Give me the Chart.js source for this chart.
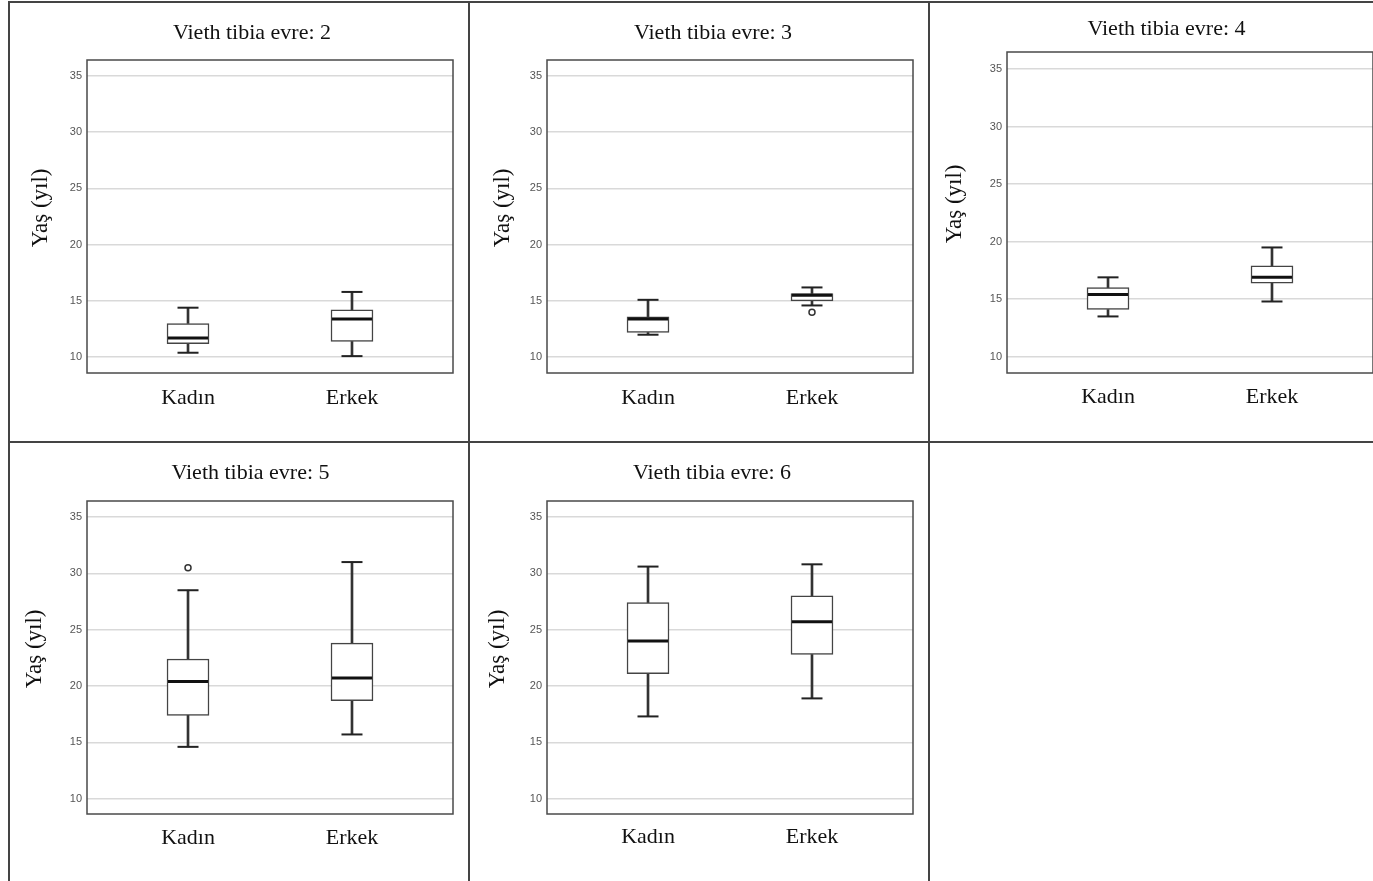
<!DOCTYPE html>
<html>
<head>
<meta charset="utf-8">
<script src="https://cdn.jsdelivr.net/npm/chart.js@4.4.1/dist/chart.umd.min.js"></script>
<style>
  html, body { margin: 0; padding: 0; background: #fff; overflow: hidden; }
  body { width: 1373px; height: 881px; position: relative; }
  .panel { position: absolute; }
  .rule { position: absolute; background: #444; }
</style>
</head>
<body>
<div id="panels"></div>
<div class="rule" style="left:8px;top:1px;width:1365px;height:2px"></div>
<div class="rule" style="left:8px;top:1px;width:2px;height:880px"></div>
<div class="rule" style="left:468px;top:1px;width:2px;height:880px"></div>
<div class="rule" style="left:928px;top:1px;width:2px;height:880px"></div>
<div class="rule" style="left:8px;top:441px;width:1365px;height:2px"></div>
<script>
const groups = ['Kadın', 'Erkek'];
const stages = [2, 3, 4, 5, 6];

// one [Kadın, Erkek] pair per stage, values in years
const lowWhisker  = [[10.4, 10.1], [12.0, 14.6], [13.5, 14.8], [14.6, 15.7], [17.3, 18.9]];
const q1          = [[11.2, 11.4], [12.2, 15.0], [14.1, 16.4], [17.4, 18.7], [21.1, 22.8]];
const medians     = [[11.7, 13.4], [13.4, 15.5], [15.4, 16.9], [20.4, 20.7], [24.0, 25.7]];
const q3          = [[13.0, 14.2], [13.6, 15.65], [16.0, 17.9], [22.4, 23.8], [27.4, 28.0]];
const highWhisker = [[14.4, 15.8], [15.1, 16.2], [16.9, 19.5], [28.5, 31.0], [30.6, 30.8]];
const outliers    = [[[], []], [[], [14.0]], [[], []], [[30.5], []], [[], []]];
const yTicks = [10, 15, 20, 25, 30, 35];

// where each panel sits on the page (px)
const panels = [
  {left: 9,   top: 3,   chartLeft: 87,   chartRight: 453,  chartTop: 60,  chartBottom: 373, titleX: 252,    titleY: 33,  labelY: 398, yTitleX: 41,  yMin: 8.6,  yMax: 36.4},
  {left: 470, top: 3,   chartLeft: 547,  chartRight: 913,  chartTop: 60,  chartBottom: 373, titleX: 713,    titleY: 33,  labelY: 398, yTitleX: 503, yMin: 8.6,  yMax: 36.4},
  {left: 930, top: 3,   chartLeft: 1007, chartRight: 1373, chartTop: 52,  chartBottom: 373, titleX: 1166.5, titleY: 29,  labelY: 397, yTitleX: 955, yMin: 8.58, yMax: 36.5},
  {left: 9,   top: 443, chartLeft: 87,   chartRight: 453,  chartTop: 501, chartBottom: 814, titleX: 250.5,  titleY: 473, labelY: 838, yTitleX: 35,  yMin: 8.64, yMax: 36.42},
  {left: 470, top: 443, chartLeft: 547,  chartRight: 913,  chartTop: 501, chartBottom: 814, titleX: 712,    titleY: 473, labelY: 837, yTitleX: 498, yMin: 8.64, yMax: 36.42},
];

const serif = '"Liberation Serif", "Times New Roman", serif';
const H = 438;
const half = 22 * 1.2 / 2;   // half line height, titles and labels
const halfY = 23 * 1.2 / 2;  // half line height, y title

const frame = {
  id: 'frame',
  beforeDatasetsDraw(chart) {
    const {ctx, chartArea: a} = chart;
    ctx.save();
    ctx.strokeStyle = '#4a4a4a';
    ctx.lineWidth = 1.5;
    ctx.strokeRect(a.left, a.top, a.right - a.left, a.bottom - a.top);
    ctx.restore();
  }
};

const pts = vals => vals.map((v, k) => ({x: k, y: v}));

panels.forEach((p, i) => {
  const w = 2 * (p.titleX - p.left);
  const div = document.createElement('div');
  div.className = 'panel';
  div.style.left = p.left + 'px';
  div.style.top = p.top + 'px';
  const canvas = document.createElement('canvas');
  canvas.width = w;
  canvas.height = H;
  div.appendChild(canvas);
  document.getElementById('panels').appendChild(div);

  const outPts = [];
  outliers[i].forEach((list, k) => list.forEach(v => outPts.push({x: k, y: v})));

  new Chart(canvas, {
    type: 'bar',
    data: {
      datasets: [
        {
          data: groups.map((g, k) => ({x: k, y: [q1[i][k], q3[i][k]]})),
          barThickness: 42, grouped: false,
          backgroundColor: '#fff', borderColor: '#444', borderWidth: 1.5, borderSkipped: false,
          order: 3
        },
        {
          data: groups.map((g, k) => ({x: k, y: [lowWhisker[i][k], q1[i][k]]})),
          barThickness: 2, grouped: false, backgroundColor: '#333', borderWidth: 0,
          order: 4
        },
        {
          data: groups.map((g, k) => ({x: k, y: [q3[i][k], highWhisker[i][k]]})),
          barThickness: 2, grouped: false, backgroundColor: '#333', borderWidth: 0,
          order: 4
        },
        {
          type: 'scatter',
          data: pts(lowWhisker[i]).concat(pts(highWhisker[i])),
          pointStyle: 'line', pointRadius: 10.5, pointBorderWidth: 2, pointBorderColor: '#222',
          order: 2
        },
        {
          type: 'scatter',
          data: pts(medians[i]),
          pointStyle: 'line', pointRadius: 20, pointBorderWidth: 3, pointBorderColor: '#111',
          order: 1
        },
        {
          type: 'scatter',
          data: outPts,
          pointStyle: 'circle', pointRadius: 3, pointBorderWidth: 1.5,
          pointBorderColor: '#333', pointBackgroundColor: '#fff',
          order: 0
        }
      ]
    },
    options: {
      responsive: false,
      animation: false,
      events: [],
      layout: {padding: 0},
      plugins: {
        legend: {display: false},
        tooltip: {enabled: false},
        title: {
          display: true,
          text: 'Vieth tibia evre: ' + stages[i],
          color: '#111',
          font: {family: serif, size: 22, weight: 'normal'},
          padding: {top: p.titleY - p.top - half, bottom: p.chartTop - p.titleY - half}
        }
      },
      scales: {
        x: {
          type: 'linear', min: -0.616, max: 1.616, offset: false,
          grid: {display: false, offset: false, drawTicks: false},
          border: {display: false},
          afterBuildTicks: s => { s.ticks = groups.map((g, k) => ({value: k})); },
          ticks: {
            callback: v => groups[v],
            padding: p.labelY - p.chartBottom - half,
            color: '#111',
            font: {family: serif, size: 22},
            autoSkip: false, maxRotation: 0
          },
          afterFit: s => { s.height = H - (p.chartBottom - p.top); }
        },
        y: {
          min: p.yMin, max: p.yMax,
          afterBuildTicks: s => { s.ticks = yTicks.map(v => ({value: v})); },
          grid: {color: '#d9d9d9', lineWidth: 1.5, drawTicks: false},
          border: {display: false},
          ticks: {
            padding: 5, color: '#555',
            font: {family: '"Liberation Sans Narrow", "Liberation Sans", sans-serif', size: 11}
          },
          title: {
            // leading spaces lift the centred label a little, as in the original
            display: true, text: '\u00a0\u00a0\u00a0Yaş (yıl)', color: '#111',
            font: {family: serif, size: 23},
            padding: {top: p.yTitleX - p.left - halfY, bottom: 0}
          },
          afterFit: s => { s.width = p.chartLeft - p.left; }
        },
        yr: {
          position: 'right',
          grid: {display: false},
          border: {display: false},
          ticks: {display: false},
          afterFit: s => { s.width = p.left + w - p.chartRight; }
        }
      }
    },
    plugins: [frame]
  });
});
</script>
</body>
</html>
